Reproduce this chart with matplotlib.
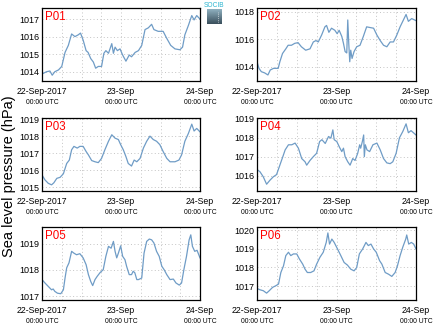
import matplotlib
matplotlib.use("Agg")
import matplotlib.pyplot as plt
import matplotlib.transforms as mtransforms
from matplotlib.colors import LinearSegmentedColormap
import numpy as np

plt.rcParams['font.family'] = ['Liberation Sans', 'DejaVu Sans']

# hours since 22-Sep-2017 00:00 UTC, sea level pressure (hPa)
p01_hours = [0, 1.4, 2.4, 3.1, 3.9, 5, 6, 7, 8, 9, 10, 11, 11.7, 12.5, 13.4, 14, 14.8, 15.6, 16.3, 17.1,
             18.1, 18.8, 19.4, 20.2, 21.2, 21.7, 22.2, 22.9, 23.7, 24.5, 25.5, 26.5, 27.2, 28.3, 29.3, 30.3,
             31.3, 32.3, 33.3, 34, 35.3, 36.8, 37.9, 39.1, 40.4, 41.9, 42.7, 43.4, 44.5, 45.5, 46.2, 47, 48]
p01_hpa = [1013.87, 1014.0, 1014.04, 1013.8, 1014.0, 1014.1, 1014.3, 1015.1, 1015.5, 1016.15, 1016.0,
           1016.1, 1016.2, 1015.8, 1015.2, 1015.1, 1014.75, 1014.55, 1014.2, 1014.3, 1014.3, 1015.05,
           1015.2, 1015.05, 1015.6, 1015.05, 1015.4, 1015.2, 1015.3, 1014.95, 1014.6, 1014.95, 1014.85,
           1015.1, 1015.2, 1015.5, 1016.4, 1016.5, 1016.7, 1016.4, 1016.3, 1016.3, 1015.9, 1015.5,
           1015.3, 1015.25, 1015.4, 1016.1, 1016.65, 1017.2, 1016.95, 1017.2, 1017.0]

p02_hours = [0, 0.6, 1.3, 2.3, 3.3, 4, 5, 6.4, 6.9, 7.7, 8.7, 9.4, 10.4, 11.4, 12.4, 13.4, 14.7, 16, 17,
             17.8, 18.5, 19.5, 20.5, 21, 21.7, 22.5, 23.5, 24.2, 24.8, 25.6, 26.1, 26.6, 27.1, 27.4, 27.7,
             28, 28.3, 28.7, 29.3, 30.1, 31.1, 32.1, 33.1, 34.1, 35.2, 36.2, 37.2, 38.2, 39.2, 40.2, 41.2,
             42.2, 43.2, 44.2, 45, 45.7, 46.7, 48]
p02_hpa = [1014.36, 1013.88, 1013.64, 1013.55, 1013.4, 1013.76, 1013.88, 1013.88, 1014.36, 1014.96,
           1015.3, 1015.56, 1015.56, 1015.7, 1015.75, 1015.45, 1015.2, 1015.3, 1015.8, 1015.9, 1015.8,
           1016.3, 1016.9, 1017.0, 1016.5, 1016.8, 1016.65, 1016.4, 1016.65, 1016.2, 1015.7, 1015.1,
           1015.0, 1017.4, 1015.7, 1014.36, 1015.2, 1014.6, 1015.1, 1015.45, 1015.56, 1016.2, 1016.9,
           1016.85, 1016.8, 1016.3, 1015.9, 1015.56, 1015.45, 1015.8, 1015.8, 1016.3, 1016.9, 1017.4,
           1017.8, 1017.3, 1017.5, 1017.35]

p03_hours = [0, 0.9, 1.9, 2.9, 3.6, 4.5, 5.5, 6.5, 7.5, 8.3, 9, 9.7, 10.7, 11.5, 12.5, 13.4, 14.1, 15.1,
             16.1, 17.1, 18.1, 19.1, 20.2, 21.2, 22.2, 23.2, 23.9, 24.7, 25.5, 26.2, 27.2, 28, 28.8, 29.8,
             30.8, 31.8, 32.8, 33.8, 34.8, 35.8, 36.8, 37.9, 38.9, 40.4, 41.6, 42.4, 43.4, 44.5, 45.5,
             46.2, 47, 48]
p03_hpa = [1015.73, 1015.44, 1015.24, 1015.15, 1015.27, 1015.53, 1015.59, 1015.8, 1016.4, 1016.6,
           1017.2, 1017.4, 1017.3, 1017.4, 1017.4, 1017.1, 1016.9, 1016.57, 1016.5, 1016.45, 1016.7,
           1017.2, 1017.7, 1018.08, 1017.88, 1017.8, 1017.5, 1017.2, 1016.8, 1016.4, 1016.25, 1016.6,
           1016.5, 1016.7, 1017.3, 1017.7, 1018.0, 1017.8, 1017.7, 1017.5, 1017.1, 1016.7, 1016.5,
           1016.5, 1016.6, 1016.9, 1017.7, 1018.17, 1018.7, 1018.3, 1018.45, 1018.25]

p04_hours = [0, 0.9, 1.9, 2.9, 3.9, 4.9, 5.9, 6.9, 7.8, 8.5, 9.5, 10.5, 11.5, 12.5, 13.5, 14.5, 15, 16,
             17, 18, 18.9, 19.6, 20.6, 21.6, 22.3, 22.9, 23.3, 24.1, 24.9, 25.6, 26.1, 26.6, 27.4, 28.1,
             28.9, 29.6, 30.4, 31, 31.3, 31.8, 32.2, 32.4, 32.7, 33.2, 34, 35, 36.2, 37.2, 38.2, 39.2,
             40.2, 41, 42, 43, 44, 45, 45.7, 46.5, 48]
p04_hpa = [1016.32, 1016.2, 1015.93, 1015.54, 1015.75, 1015.93, 1016.05, 1016.55, 1017.0, 1017.36,
           1017.63, 1017.63, 1017.72, 1017.45, 1016.9, 1016.73, 1016.55, 1016.8, 1017.0, 1017.18,
           1017.8, 1017.9, 1017.7, 1018.07, 1017.98, 1018.42, 1017.9, 1017.8, 1017.5, 1017.27,
           1017.45, 1017.0, 1016.73, 1016.55, 1016.9, 1016.8, 1017.18, 1017.63, 1017.45, 1017.8,
           1018.15, 1017.0, 1017.63, 1017.36, 1017.27, 1017.63, 1017.72, 1017.36, 1016.9, 1016.67,
           1016.63, 1016.73, 1017.18, 1018.0, 1018.33, 1018.74, 1018.27, 1018.38, 1018.15]

p05_hours = [0, 0.9, 1.9, 2.9, 3.4, 3.9, 4.7, 5.7, 6.5, 7, 7.5, 8.2, 9, 9.7, 10.5, 11.5, 12.5, 13.4,
             14.1, 14.8, 15.4, 16.1, 16.8, 17.6, 18.6, 19.4, 20.2, 21, 21.7, 22.2, 22.7, 23.2, 23.9,
             24.5, 25.2, 25.7, 26.5, 27.2, 27.7, 28.2, 28.8, 29.3, 30.3, 31, 31.8, 32.6, 33.3, 34, 34.8,
             35.6, 36.4, 37.1, 37.9, 38.9, 39.9, 40.7, 41.7, 42.4, 43.1, 43.9, 44.7, 45.2, 45.7, 46.4,
             47.1, 48]
p05_hpa = [1017.63, 1017.5, 1017.37, 1017.24, 1017.27, 1017.18, 1017.11, 1017.09, 1017.24, 1017.69,
           1018.08, 1018.27, 1018.71, 1018.64, 1018.58, 1018.62, 1018.46, 1018.2, 1017.82, 1017.56,
           1017.4, 1017.63, 1017.76, 1017.89, 1018.01, 1018.52, 1018.9, 1018.83, 1019.09, 1018.71,
           1018.46, 1018.64, 1018.92, 1018.52, 1018.39, 1018.14, 1017.82, 1017.82, 1017.95, 1017.89,
           1017.63, 1017.63, 1017.69, 1018.64, 1019.09, 1019.18, 1019.15, 1019.03, 1018.71, 1018.52,
           1018.14, 1018.01, 1017.82, 1017.63, 1017.65, 1017.5, 1017.42, 1017.5, 1018.01, 1018.52,
           1019.15, 1019.34, 1018.9, 1018.71, 1018.75, 1018.46]

p06_hours = [0, 0.9, 1.9, 2.9, 3.7, 4.7, 5.7, 6.5, 7.2, 8, 8.7, 9.5, 10.2, 11, 12, 12.8, 13.8, 14.5,
             15.2, 16.2, 17.2, 18, 19, 20, 20.9, 21.4, 21.9, 22.6, 23.3, 24.3, 25.3, 26.3, 27.3, 28.3,
             29.3, 30.1, 30.9, 31.9, 32.9, 33.6, 34.4, 35.2, 36, 37, 37.7, 38.7, 39.7, 40.7, 41.7, 42.4,
             43.2, 44, 44.9, 45.2, 45.8, 46.6, 47.3, 48]
p06_hpa = [1016.87, 1016.8, 1016.75, 1016.62, 1016.75, 1016.93, 1017.02, 1017.11, 1017.73, 1018.09,
           1018.64, 1018.82, 1018.64, 1018.73, 1018.73, 1018.46, 1018.18, 1017.91, 1017.73, 1017.73,
           1017.82, 1018.18, 1018.55, 1018.82, 1019.35, 1019.86, 1019.26, 1019.53, 1019.35, 1019.0,
           1018.64, 1018.27, 1018.13, 1017.91, 1017.82, 1018.0, 1018.73, 1019.0, 1019.35, 1019.18,
           1019.26, 1019.0, 1018.82, 1018.37, 1018.18, 1017.73, 1017.64, 1017.52, 1017.73, 1018.09,
           1018.64, 1019.09, 1019.53, 1019.75, 1019.26, 1019.35, 1019.26, 1019.0]

names = ['P01', 'P02', 'P03', 'P04', 'P05', 'P06']
series = [(p01_hours, p01_hpa), (p02_hours, p02_hpa), (p03_hours, p03_hpa),
          (p04_hours, p04_hpa), (p05_hours, p05_hpa), (p06_hours, p06_hpa)]
ylims = [(1013.47, 1017.63), (1012.96, 1018.27), (1014.79, 1019.06),
         (1015.18, 1019.05), (1016.85, 1019.64), (1016.25, 1020.18)]
yticks = [[1014, 1015, 1016, 1017], [1014, 1016, 1018], [1015, 1016, 1017, 1018, 1019],
          [1016, 1017, 1018, 1019], [1017, 1018, 1019], [1017, 1018, 1019, 1020]]
date_labels = ['22-Sep-2017', '23-Sep', '24-Sep']
time_labels = ['00:00 UTC', '00:00 UTC', '00:00 UTC']

W, H = 434, 327
fig = plt.figure(figsize=(W / 100, H / 100), dpi=100)

lefts = [42, 257]
widths = [158, 159]
tops = [8, 118, 227]
ax_h = 73

line_color = '#6f9cc6'

for i, name in enumerate(names):
    row, col = i // 2, i % 2
    x0 = lefts[col] / W
    y0 = (H - tops[row] - ax_h) / H
    ax = fig.add_axes([x0, y0, widths[col] / W, ax_h / H])
    hrs, vals = series[i]
    ax.plot(hrs, vals, color=line_color, lw=0.9)
    ax.set_xlim(0, 48)
    ax.set_ylim(*ylims[i])
    ax.set_yticks(yticks[i])
    ax.set_yticklabels([str(v) for v in yticks[i]], fontsize=6.5)
    ax.set_xticks(np.arange(0, 49, 6), minor=True)
    ax.set_xticks([0, 24, 48])
    ax.set_xticklabels(date_labels, fontsize=6.3)
    ax.tick_params(axis='both', which='both', length=0, pad=2)
    ax.tick_params(axis='x', pad=4)
    ax.grid(True, which='both', axis='x', color='#c4c4c4', ls=(0, (1, 2.5)), lw=0.7)
    ax.grid(True, which='major', axis='y', color='#c4c4c4', ls=(0, (1, 2.5)), lw=0.7)
    for s in ax.spines.values():
        s.set_linewidth(0.9)
    trans = mtransforms.blended_transform_factory(ax.transData, ax.transAxes)
    for xv, lab in zip([0, 24, 48], time_labels):
        ax.text(xv, -0.25, lab, transform=trans, ha='center', va='top', fontsize=4.9)
    ax.text(0.02, 0.96, name, transform=ax.transAxes, ha='left', va='top',
            color='red', fontsize=8.3)

fig.text(0.02, 0.46, 'Sea level pressure (hPa)', rotation=90, ha='center', va='center',
         fontsize=10.5)

# small logo
logo = fig.add_axes([207 / W, (H - 24) / H, 15 / W, 15 / H])
logo_cmap = LinearSegmentedColormap.from_list('logo', ['#8fb0bf', '#3a4f5c'])
grad = np.linspace(0, 1, 50).reshape(-1, 1)
logo.imshow(grad, aspect='auto', cmap=logo_cmap, extent=[0, 1, 0, 1])
logo.plot([0.72, 0.72], [0.15, 0.85], color='white', lw=0.5, ls=':')
logo.set_xlim(0, 1)
logo.set_ylim(0, 1)
logo.set_axis_off()
fig.text(214.5 / W, (H - 5.5) / H, 'SOCIB', color='#2bb5d0', fontsize=4.8, ha='center', va='center')

fig.savefig('out.png', dpi=100)
